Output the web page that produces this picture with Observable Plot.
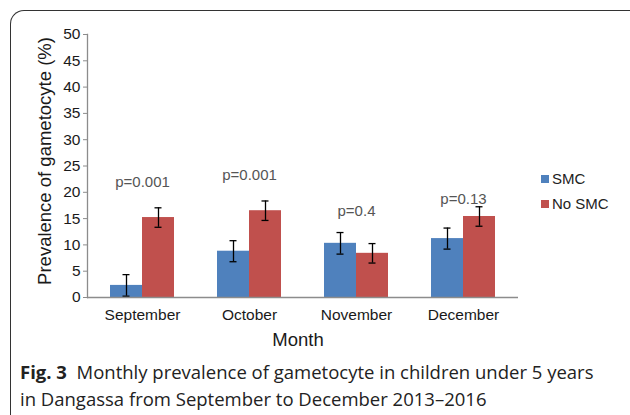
<!DOCTYPE html>
<html><head><meta charset="utf-8">
<script src="https://cdn.jsdelivr.net/npm/d3@7"></script>
<script src="https://cdn.jsdelivr.net/npm/@observablehq/plot@0.6"></script>
<style>
body{margin:0;background:#fff;width:630px;height:415px;overflow:hidden;position:relative;font-family:"Liberation Sans",Arial,sans-serif;}
#border{position:absolute;left:10px;top:10px;width:640px;height:440px;border-top:1.5px solid #333;border-left:1.5px solid #333;border-top-left-radius:14px;}
#chart{position:absolute;left:0;top:0;}
#ytitle{position:absolute;left:45px;top:161px;transform:translate(-50%,-50%) rotate(-90deg);white-space:nowrap;font-size:18.5px;color:#1a1a1a;}
#xtitle{position:absolute;left:298px;top:340px;transform:translate(-50%,-50%);white-space:nowrap;font-size:18.5px;color:#1a1a1a;}
#legend{position:absolute;left:541px;top:166px;font-size:15px;color:#222;}
#legend div{height:25px;display:flex;align-items:center;}
#legend span.sw{display:inline-block;width:8px;height:8px;margin-right:3px;}
#caption{position:absolute;left:20px;top:358px;font-family:"Open Sans",sans-serif;font-size:18.5px;line-height:27px;color:#222;white-space:nowrap;}
</style></head>
<body>
<div id="border"></div>
<div id="chart"></div>
<div id="ytitle">Prevalence of gametocyte (%)</div>
<div id="xtitle">Month</div>
<div id="legend"></div>
<div id="caption"><b>Fig. 3</b>&nbsp; Monthly prevalence of gametocyte in children under 5 years<br>in Dangassa from September to December 2013–2016</div>
<script>
const months = ["September", "October", "November", "December"];
const groups = ["SMC", "No SMC"];
const colors = ["#4F81BD", "#C0504D"];
const smcValues = [2.3, 8.8, 10.3, 11.2];
const noSmcValues = [15.2, 16.5, 8.4, 15.4];
const smcErr = [2.05, 2.0, 2.05, 2.0];
const noSmcErr = [1.85, 1.85, 1.85, 1.85];
const pLabels = ["p=0.001", "p=0.001", "p=0.4", "p=0.13"];
const pLabelY = [22, 23.2, 16.5, 18.6];
const yTicks = [0, 5, 10, 15, 20, 25, 30, 35, 40, 45, 50];

const smcRows = months.map((m, i) => ({month: m, value: smcValues[i], err: smcErr[i]}));
const noSmcRows = months.map((m, i) => ({month: m, value: noSmcValues[i], err: noSmcErr[i]}));
const pRows = months.map((m, i) => ({month: m, label: pLabels[i], y: pLabelY[i]}));

// each month band holds two bars side by side: SMC on the left half, No SMC on the right half
const half = 32, cap = 12.5;
function series(data, color, left) {
  return [
    Plot.barY(data, {x: "month", y: "value", fill: color, insetLeft: left ? 0 : half, insetRight: left ? half : 0}),
    Plot.ruleX(data, {x: "month", y1: d => d.value - d.err, y2: d => d.value + d.err, stroke: "#000", strokeWidth: 1.3, dx: left ? -half / 2 : half / 2}),
    Plot.tickY(data, {x: "month", y: d => d.value - d.err, stroke: "#000", strokeWidth: 1.3, insetLeft: left ? cap : half + cap, insetRight: left ? half + cap : cap}),
    Plot.tickY(data, {x: "month", y: d => d.value + d.err, stroke: "#000", strokeWidth: 1.3, insetLeft: left ? cap : half + cap, insetRight: left ? half + cap : cap})
  ];
}

const chart = Plot.plot({
  width: 630, height: 355,
  marginTop: 34, marginBottom: 58, marginLeft: 87, marginRight: 112,
  style: {fontFamily: "'Liberation Sans', Arial, sans-serif", fontSize: "15px", color: "#1a1a1a", background: "transparent"},
  x: {domain: months, paddingInner: 0.406, paddingOuter: 0.203, label: null, axis: null},
  y: {domain: [0, 50], axis: null},
  marks: [
    ...series(smcRows, colors[0], true),
    ...series(noSmcRows, colors[1], false),
    Plot.frame({anchor: "left", stroke: "#8c8c8c", strokeWidth: 1.3}),
    Plot.ruleY([0], {stroke: "#8c8c8c", strokeWidth: 1.3}),
    Plot.text(pRows, {x: "month", y: "y", text: "label", fill: "#555", fontSize: 15}),
    Plot.axisY({ticks: yTicks, tickSize: 4, tickPadding: 3, stroke: "#8c8c8c", label: null, fontSize: 15.5}),
    Plot.axisX({tickSize: 0, tickPadding: 11, label: null, fontSize: 15.5})
  ]
});
document.getElementById("chart").appendChild(chart);

const legend = document.getElementById("legend");
groups.forEach((g, i) => {
  const row = document.createElement("div");
  row.innerHTML = `<span class="sw" style="background:${colors[i]}"></span>${g}`;
  legend.appendChild(row);
});
</script>
</body></html>
